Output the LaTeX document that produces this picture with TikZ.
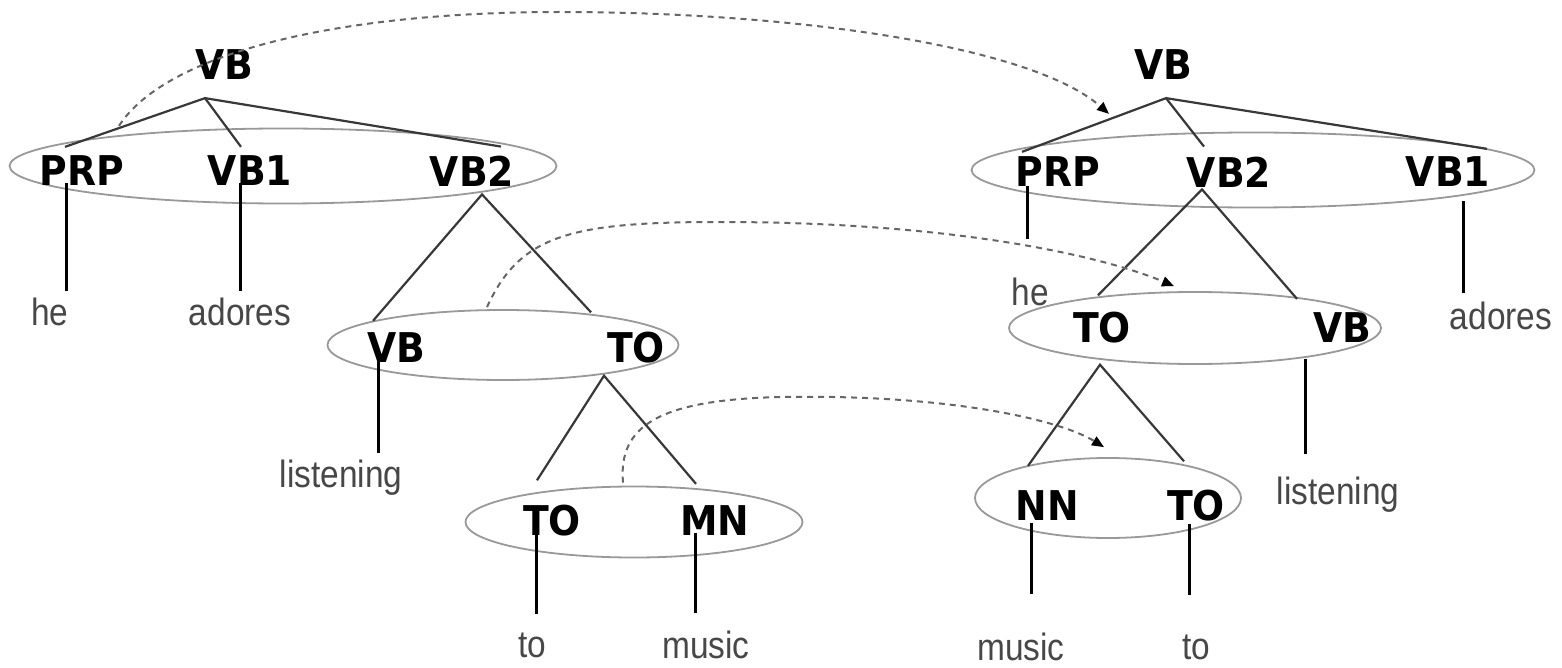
\documentclass[tikz,border=0pt]{standalone}
\usepackage{fontspec}
\newfontfamily\labfont{DejaVu Sans}
\newfontfamily\wordfont{Liberation Sans}
\usetikzlibrary{shapes.geometric,arrows.meta,calc}
\newcommand{\wrdtxt}[1]{\scalebox{0.88}[1]{#1}}
\newcommand{\labtxt}[1]{\scalebox{0.92}[1]{#1}}
\tikzset{
  lab/.style={font=\labfont\bfseries\fontsize{41}{41}\selectfont, inner sep=0pt, text=black},
  word/.style={font=\wordfont\fontsize{38}{38}\selectfont, inner sep=0pt, text=black!72},
  oval/.style={draw=black!40, line width=1.8pt, ellipse, inner sep=0pt},
  branch/.style={draw=black!78, line width=2.2pt},
  stem/.style={draw=black, line width=3pt},
  move/.style={draw=black!60, line width=2pt, dash pattern=on 6pt off 5pt,
    -{Triangle[length=12pt,width=10pt,color=black]}}
}
\begin{document}
\begin{tikzpicture}[x=1pt,y=-1pt]
\useasboundingbox[fill=white] (0,0) rectangle (1562,668);

% ---------- left tree ----------
\node[oval, minimum width=547pt, minimum height=75pt] (e1) at (283,166) {};
\node[oval, minimum width=351pt, minimum height=70pt] (e2) at (503,345) {};
\node[oval, minimum width=337pt, minimum height=71pt] (e3) at (634,522) {};

\node[lab] (vbL) at (224,65) {\labtxt{VB}};
\node[lab] (prpL) at (82,171) {\labtxt{PRP}};
\node[lab] (vb1L) at (250,171) {\labtxt{VB1}};
\node[lab] (vb2L) at (472,171) {\labtxt{VB2}};
\node[lab] (vbE2) at (396,348) {\labtxt{VB}};
\node[lab] (toE2) at (636,348) {\labtxt{TO}};
\node[lab] (toE3) at (552,521) {\labtxt{TO}};
\node[lab] (mnE3) at (715,521) {\labtxt{MN}};

\node[word] (heL) at (50,312) {\wrdtxt{he}};
\node[word] (adoresL) at (240,312) {\wrdtxt{adores}};
\node[word] (listeningL) at (341,478) {\wrdtxt{listening}};
\node[word] (toL) at (532,645) {\wrdtxt{to}};
\node[word] (musicL) at (706,645) {\wrdtxt{music}};

\coordinate (aL) at ($(vbL.south)+(-19,18)$);
\draw[branch] ($(prpL.north)+(-17,-9)$) -- (aL) -- ($(vb1L.north)+(-9,-9)$);
\draw[branch] (aL) -- ($(vb2L.north)+(29,-9)$);
\draw[stem] ($(prpL.south)+(-16,-3)$) -- ($(prpL.south)+(-16,105)$);
\draw[stem] ($(vb1L.south)+(-10,-3)$) -- ($(vb1L.south)+(-10,105)$);

\coordinate (bL) at ($(vb2L.south)+(10,8)$);
\draw[branch] ($(vbE2.north)+(-23,-12)$) -- (bL) -- ($(toE2.north)+(-45,-20)$);
\draw[stem] ($(vbE2.south)+(-18,-3)$) -- ($(vbE2.south)+(-18,90)$);

\coordinate (cL) at ($(toE2.south)+(-32,12)$);
\draw[branch] ($(toE3.north)+(-15,-25)$) -- (cL) -- ($(mnE3.north)+(-19,-22)$);
\draw[stem] ($(toE3.south)+(-16,-3)$) -- ($(toE3.south)+(-16,77)$);
\draw[stem] ($(mnE3.south)+(-20,-3)$) -- ($(mnE3.south)+(-20,77)$);

% ---------- right tree ----------
\node[oval, minimum width=563pt, minimum height=75pt] (e4) at (1253,170) {};
\node[oval, minimum width=372pt, minimum height=72pt] (e5) at (1195,328) {};
\node[oval, minimum width=266pt, minimum height=80pt] (e6) at (1108,498) {};

\node[lab] (vbR) at (1163,65) {\labtxt{VB}};
\node[lab] (prpR) at (1058,172) {\labtxt{PRP}};
\node[lab] (vb2R) at (1229,172) {\labtxt{VB2}};
\node[lab] (vb1R) at (1448,172) {\labtxt{VB1}};
\node[lab] (toE5) at (1102,328) {\labtxt{TO}};
\node[lab] (vbE5) at (1342,328) {\labtxt{VB}};
\node[lab] (nnE6) at (1047,506) {\labtxt{NN}};
\node[lab] (toE6) at (1196,506) {\labtxt{TO}};

\node[word] (heR) at (1030,292) {\wrdtxt{he}};
\node[word] (adoresR) at (1501,316) {\wrdtxt{adores}};
\node[word] (listeningR) at (1338,495) {\wrdtxt{listening}};
\node[word] (musicR) at (1021,647) {\wrdtxt{music}};
\node[word] (toR) at (1196,647) {\wrdtxt{to}};

\coordinate (aR) at ($(vbR.south)+(3,18)$);
\draw[branch] ($(prpR.north)+(-36,-5)$) -- (aR) -- ($(vb2R.north)+(-25,-10)$);
\draw[branch] (aR) -- ($(vb1R.north)+(39,-8)$);
\draw[stem] ($(prpR.south)+(-31,-1)$) -- ($(prpR.south)+(-31,52)$);
\draw[stem] ($(vb1R.south)+(15,14)$) -- ($(vb1R.south)+(15,106)$);

\coordinate (bR) at ($(vb2R.south)+(-27,2)$);
\draw[branch] ($(toE5.north)+(-4,-17)$) -- (bR) -- ($(vbE5.north)+(-45,-14)$);
\draw[stem] ($(vbE5.south)+(-37,16)$) -- ($(vbE5.south)+(-37,111)$);

\coordinate (cR) at ($(toE5.south)+(-2,21)$);
\draw[branch] ($(nnE6.north)+(-19,-25)$) -- (cR) -- ($(toE6.north)+(-12,-29)$);
\draw[stem] ($(nnE6.south)+(-16,2)$) -- ($(nnE6.south)+(-16,73)$);
\draw[stem] ($(toE6.south)+(-7,2)$) -- ($(toE6.south)+(-7,73)$);

% ---------- movement arrows ----------
\draw[move] ($(prpL.north)+(37,-30)$) .. controls (165,55) and (330,12) .. (560,12)
  .. controls (790,12) and (1030,45) .. ($(prpR.north)+(51,-43)$);
\draw[move] ($(e2.north)+(-16,-2)$) .. controls (520,235) and (570,222) .. (720,222)
  .. controls (950,222) and (1100,255) .. ($(e5.north)+(-21,-5)$);
\draw[move] ($(e3.north)+(-11,-3)$) .. controls (618,425) and (660,400) .. (780,397)
  .. controls (950,394) and (1060,420) .. ($(e6.north)+(-4,-10)$);
\end{tikzpicture}
\end{document}
